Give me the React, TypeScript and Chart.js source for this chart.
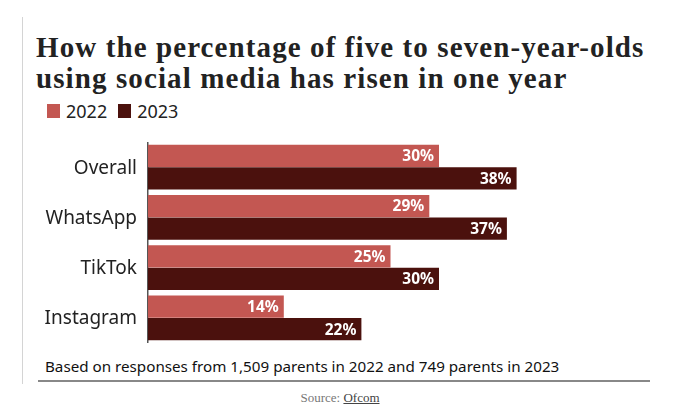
import React, { useEffect, useRef } from "react";
import { Chart, registerables } from "chart.js";

Chart.register(...registerables);

const categories = ["Overall", "WhatsApp", "TikTok", "Instagram"];
const values2022 = [30, 29, 25, 14];
const values2023 = [38, 37, 30, 22];
const seriesLabels = ["2022", "2023"];
const colors = ["#c35752", "#4b110d"];

const TITLE_LINES = ["How the percentage of five to seven-year-olds", "using social media has risen in one year"];
const NOTE = "Based on responses from 1,509 parents in 2022 and 749 parents in 2023";

const SANS = '"Noto Sans", "Open Sans", sans-serif';

const labelsPlugin = {
  id: "labelsPlugin",
  afterDatasetsDraw(chart: any) {
    const ctx = chart.ctx;
    ctx.save();
    ctx.font = `bold 15.5px ${SANS}`;
    ctx.fillStyle = "#ffffff";
    ctx.textAlign = "right";
    ctx.textBaseline = "middle";
    chart.data.datasets.forEach((ds: any, i: number) => {
      const meta = chart.getDatasetMeta(i);
      meta.data.forEach((bar: any, j: number) => {
        ctx.fillText(`${ds.data[j]}%`, bar.x - 5, bar.y + 1);
      });
    });
    const yScale = chart.scales.y;
    ctx.font = `19px ${SANS}`;
    ctx.fillStyle = "#222";
    ctx.textAlign = "right";
    chart.data.labels.forEach((lab: string, i: number) => {
      ctx.fillText(lab, yScale.right - 11, yScale.getPixelForValue(i) + 1);
    });
    ctx.restore();
  },
};

export default function App() {
  const ref = useRef<HTMLCanvasElement | null>(null);

  useEffect(() => {
    document.body.style.margin = "0";
    const chart = new Chart(ref.current!, {
      type: "bar",
      data: {
        labels: categories,
        datasets: [
          { label: seriesLabels[0], data: values2022, backgroundColor: colors[0], categoryPercentage: 0.9, barPercentage: 0.98 },
          { label: seriesLabels[1], data: values2023, backgroundColor: colors[1], categoryPercentage: 0.9, barPercentage: 0.98 },
        ],
      },
      options: {
        indexAxis: "y",
        animation: false,
        responsive: false,
        maintainAspectRatio: false,
        layout: { padding: { left: 0, right: 47, top: 0, bottom: 0 } },
        plugins: { legend: { display: false }, tooltip: { enabled: false } },
        scales: {
          x: { display: false, min: 0, max: 50 },
          y: {
            afterFit(scale: any) {
              scale.width = 148;
            },
            grid: { display: false, drawTicks: false },
            border: { display: true, color: "#555", width: 1.5 },
            ticks: { display: false },
          },
        },
      },
      plugins: [labelsPlugin],
    });
    return () => chart.destroy();
  }, []);

  return (
    <div style={{ position: "relative", width: 680, height: 413, background: "#fff", overflow: "hidden" }}>
      <div style={{ position: "absolute", left: 22, top: 17, width: 1, height: 367, background: "#d4d4d4" }} />
      <div
        style={{
          position: "absolute",
          left: 36,
          top: 32,
          width: 640,
          fontFamily: '"Liberation Serif", serif',
          fontWeight: "bold",
          fontSize: 29,
          letterSpacing: "1.1px",
          lineHeight: "31px",
          color: "#222",
          whiteSpace: "nowrap",
        }}
      >
        {TITLE_LINES.map((l) => (
          <div key={l}>{l}</div>
        ))}
      </div>
      <div style={{ position: "absolute", left: 47, top: 99, display: "flex", alignItems: "center", fontFamily: SANS, fontSize: 18, color: "#222" }}>
        <span style={{ display: "inline-block", width: 13, height: 14, background: colors[0], marginRight: 6 }} />
        <span style={{ marginRight: 11 }}>{seriesLabels[0]}</span>
        <span style={{ display: "inline-block", width: 13, height: 14, background: colors[1], marginRight: 6 }} />
        <span>{seriesLabels[1]}</span>
      </div>
      <canvas ref={ref} width={680} height={201} style={{ position: "absolute", left: 0, top: 142, width: 680, height: 201 }} />
      <div style={{ position: "absolute", left: 45, top: 356, fontFamily: SANS, fontSize: 15.2, color: "#111", whiteSpace: "nowrap" }}>{NOTE}</div>
      <div style={{ position: "absolute", left: 38, top: 380, width: 612, height: 2, background: "#888" }} />
      <div
        style={{
          position: "absolute",
          left: 0,
          top: 390,
          width: 680,
          textAlign: "center",
          fontFamily: '"Liberation Serif", serif',
          fontSize: 13,
          color: "#777",
        }}
      >
        Source: <span style={{ color: "#444", textDecoration: "underline" }}>Ofcom</span>
      </div>
    </div>
  );
}
